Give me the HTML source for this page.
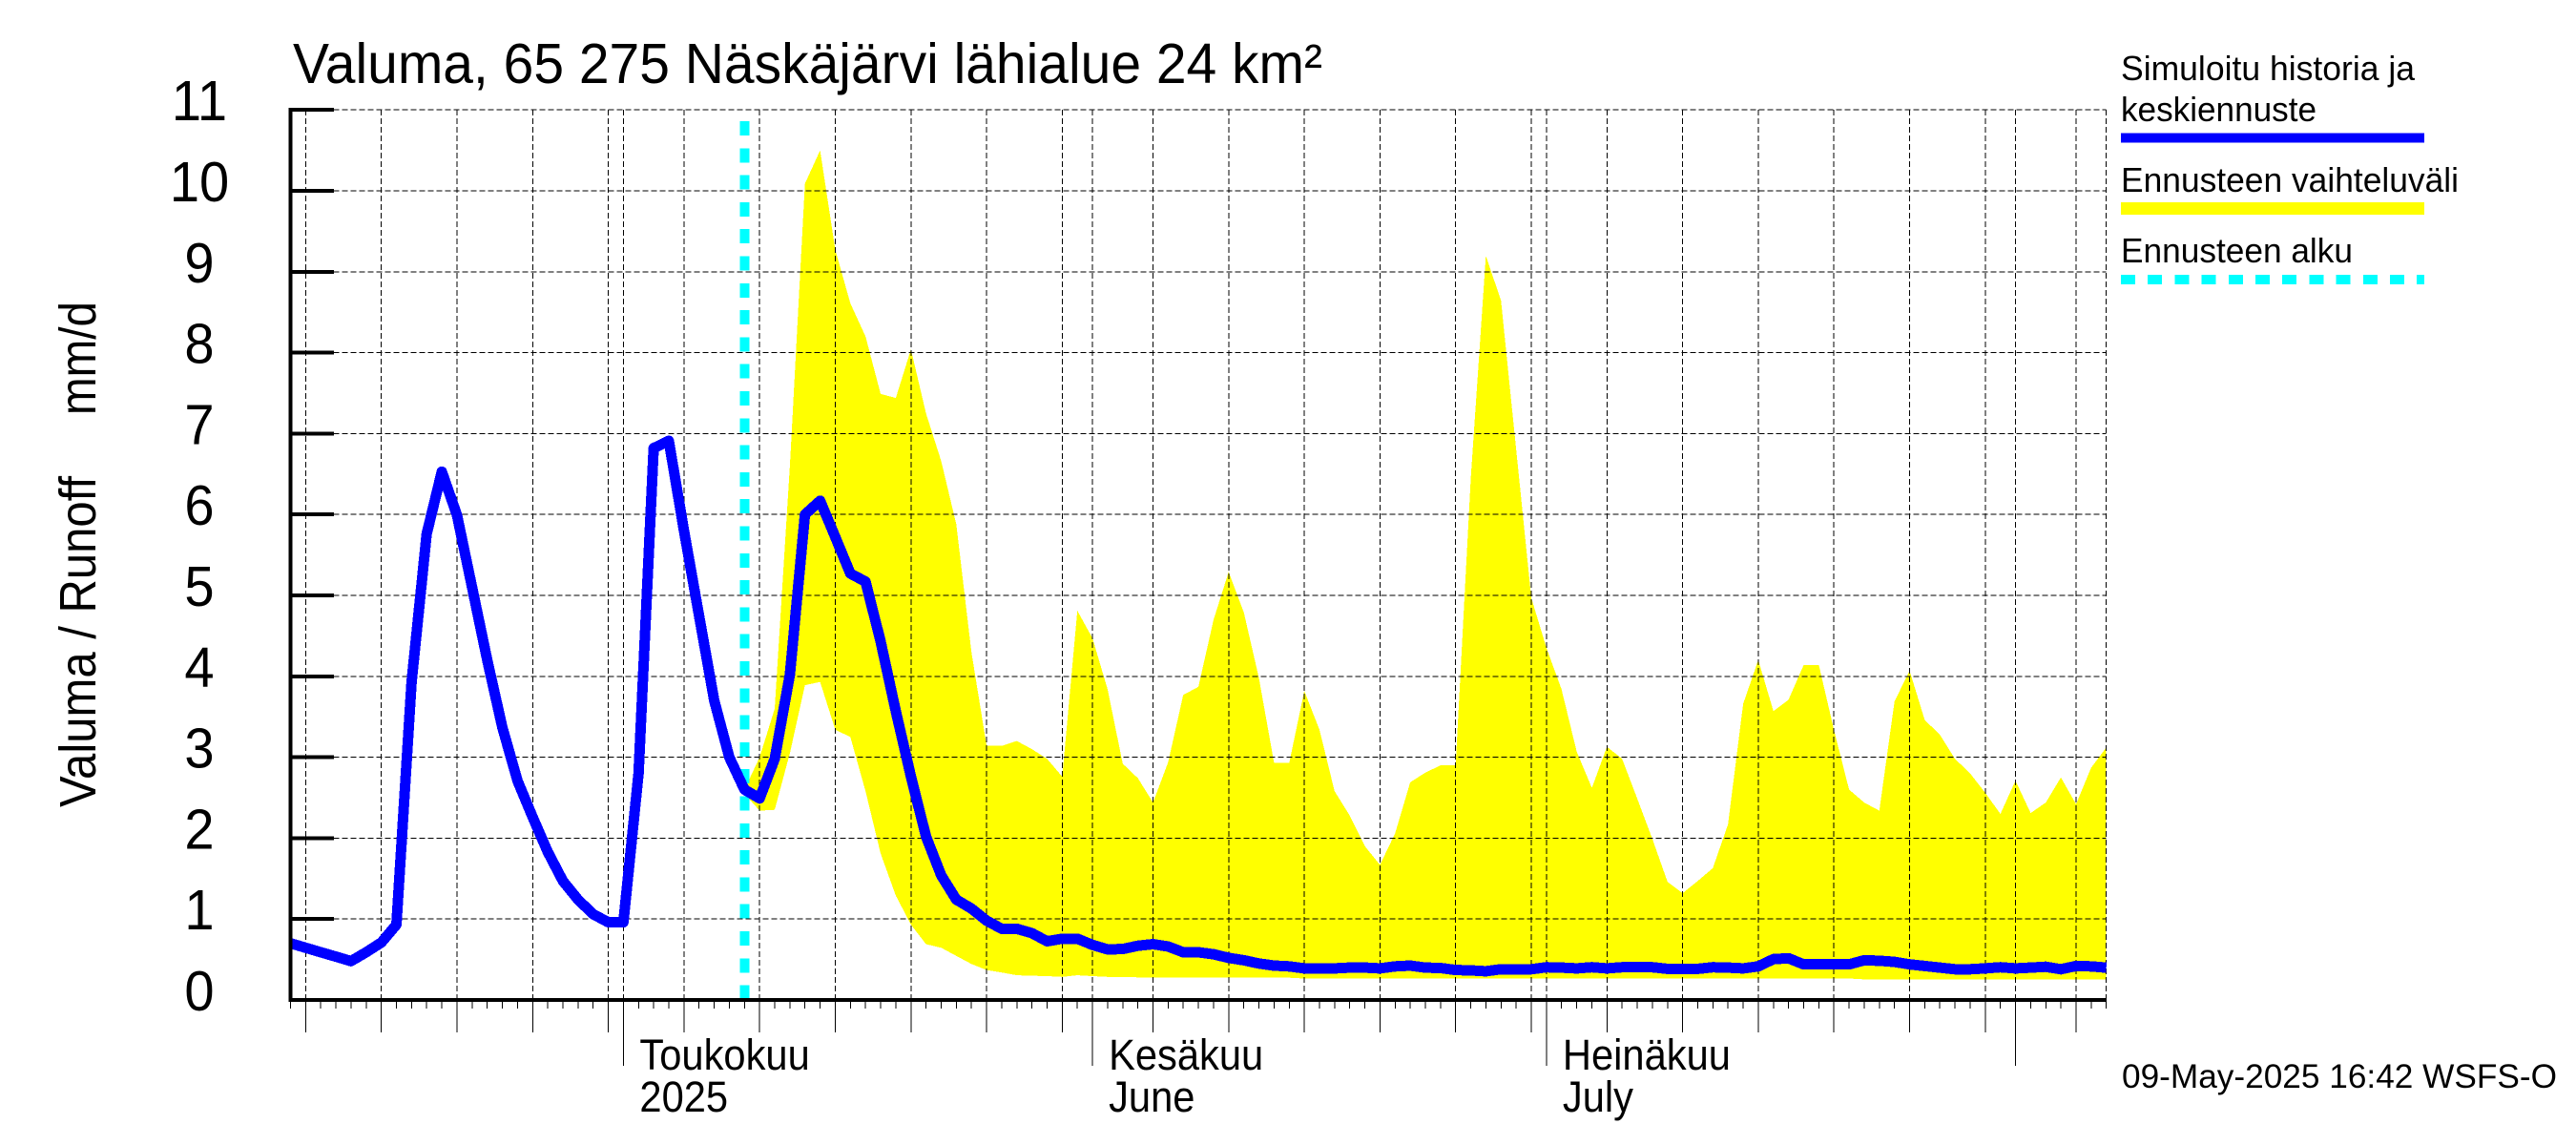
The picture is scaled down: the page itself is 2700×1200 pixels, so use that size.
<!DOCTYPE html>
<html lang="fi">
<head>
<meta charset="utf-8">
<title>Valuma, 65 275 Näskäjärvi lähialue 24 km²</title>
<style>
html,body{margin:0;padding:0;background:#fff;}
body{width:2700px;height:1200px;overflow:hidden;}
svg{display:block;font-family:"Liberation Sans",Arial,sans-serif;fill:#000;}
</style>
</head>
<body>
<svg id="chart" xmlns="http://www.w3.org/2000/svg" width="2700" height="1200" viewBox="0 0 2700 1200">
  <rect x="0" y="0" width="2700" height="1200" fill="#fff"/>
  <g id="bandLayer"></g>
  <g id="gridLayer"></g>
  <g id="startLayer"></g>
  <g id="lineLayer"></g>
  <g id="axisLayer"></g>

  <text x="307" y="87" font-size="59" textLength="1079" lengthAdjust="spacingAndGlyphs">Valuma, 65 275 Näskäjärvi lähialue 24 km²</text>

  <text transform="translate(100,846) rotate(-90)" font-size="54" textLength="347" lengthAdjust="spacingAndGlyphs">Valuma / Runoff</text>
  <text transform="translate(100,435) rotate(-90)" font-size="54" textLength="119" lengthAdjust="spacingAndGlyphs">mm/d</text>

  <g>
    <text x="2223" y="84" font-size="36.5" textLength="308" lengthAdjust="spacingAndGlyphs">Simuloitu historia ja</text>
    <text x="2223" y="127" font-size="36.5" textLength="205" lengthAdjust="spacingAndGlyphs">keskiennuste</text>
    <rect x="2223" y="139.5" width="318" height="10" fill="#0000ff"/>
    <text x="2223" y="201" font-size="36.5" textLength="354" lengthAdjust="spacingAndGlyphs">Ennusteen vaihteluväli</text>
    <rect x="2223" y="212" width="318" height="13" fill="#ffff00"/>
    <text x="2223" y="275" font-size="36.5" textLength="243" lengthAdjust="spacingAndGlyphs">Ennusteen alku</text>
    <line x1="2223" y1="293" x2="2541" y2="293" stroke="#00ffff" stroke-width="10" stroke-dasharray="15 13.2" shape-rendering="crispEdges"/>
  </g>

  <text x="2224" y="1140" font-size="35.5" textLength="456" lengthAdjust="spacingAndGlyphs">09-May-2025 16:42 WSFS-O</text>
</svg>

<script>
const startDate = '2025-04-09';
const forecastStartDay = 30;
const yTickLabels = ['0','1','2','3','4','5','6','7','8','9','10','11'];
const monthLabels = { 5: ['Toukokuu','2025'], 6: ['Kesäkuu','June'], 7: ['Heinäkuu','July'] };

const simulatedMean = [
  0.70,0.645,0.59,0.535,0.48,0.59,0.71,0.93,3.93,5.76,
  6.53,5.99,5.1,4.2,3.37,2.71,2.26,1.83,1.47,1.24,
  1.06,0.96,0.96,2.8,6.82,6.91,5.8,4.75,3.7,3.0,
  2.6,2.49,2.98,4.02,6.0,6.17,5.72,5.27,5.17,4.43,
  3.57,2.76,2.02,1.54,1.24,1.13,0.98,0.88,0.88,0.825,
  0.725,0.757,0.757,0.68,0.625,0.63,0.67,0.69,0.66,0.59,
  0.59,0.565,0.52,0.49,0.45,0.425,0.415,0.39,0.39,0.39,
  0.40,0.40,0.39,0.415,0.425,0.40,0.395,0.37,0.365,0.355,
  0.38,0.38,0.38,0.405,0.40,0.39,0.405,0.39,0.405,0.405,
  0.405,0.385,0.385,0.385,0.405,0.40,0.39,0.415,0.505,0.515,
  0.44,0.44,0.44,0.44,0.49,0.485,0.47,0.44,0.42,0.40,
  0.38,0.38,0.39,0.405,0.39,0.40,0.41,0.38,0.42,0.415,
  0.40
];
const rangeUpper = [
  2.6,3.0,3.6,6.6,10.09,10.5,9.27,8.61,8.2,7.49,
  7.44,8.04,7.25,6.66,5.88,4.3,3.14,3.14,3.2,3.1,
  2.98,2.76,4.81,4.47,3.84,2.92,2.74,2.44,2.94,3.77,
  3.87,4.7,5.29,4.79,3.98,2.93,2.93,3.82,3.34,2.58,
  2.28,1.9,1.67,2.06,2.69,2.81,2.9,2.9,6.45,9.2,
  8.64,6.8,4.97,4.35,3.84,3.07,2.62,3.13,2.98,2.49,
  1.99,1.46,1.32,1.47,1.63,2.17,3.66,4.2,3.57,3.71,
  4.14,4.14,3.34,2.6,2.44,2.34,3.69,4.07,3.46,3.28,
  2.98,2.8,2.56,2.3,2.71,2.31,2.44,2.75,2.42,2.87,
  3.12
];
const rangeLower = [
  2.55,2.34,2.35,3.05,3.89,3.93,3.34,3.25,2.58,1.81,
  1.29,0.93,0.69,0.645,0.545,0.445,0.37,0.34,0.305,0.30,
  0.295,0.285,0.305,0.295,0.285,0.285,0.28,0.28,0.28,0.28,
  0.28,0.28,0.28,0.28,0.28,0.275,0.275,0.265,0.265,0.265,
  0.265,0.265,0.265,0.265,0.265,0.265,0.265,0.265,0.265,0.265,
  0.265,0.265,0.265,0.265,0.265,0.265,0.265,0.265,0.265,0.265,
  0.265,0.265,0.265,0.265,0.265,0.265,0.265,0.265,0.265,0.265,
  0.265,0.265,0.265,0.265,0.255,0.255,0.255,0.255,0.255,0.255,
  0.255,0.255,0.255,0.255,0.255,0.255,0.255,0.255,0.255,0.255,
  0.255
];

const NS = 'http://www.w3.org/2000/svg';
const plotLeft = 304.5, dayWidth = 15.86, plotBottom = 1048, unitHeight = 84.8;
const lastDay = simulatedMean.length - 1;
const yMax = yTickLabels.length - 1;
function xScale(day) { return plotLeft + day * dayWidth; }
function yScale(value) { return plotBottom - value * unitHeight; }
function svgEl(parent, tag, attrs) {
  const el = document.createElementNS(NS, tag);
  for (const k in attrs) el.setAttribute(k, attrs[k]);
  parent.appendChild(el);
  return el;
}
function dayDate(day) {
  const d = new Date(startDate + 'T00:00:00Z');
  d.setUTCDate(d.getUTCDate() + day);
  return d;
}

const bandLayer = document.getElementById('bandLayer');
const gridLayer = document.getElementById('gridLayer');
const startLayer = document.getElementById('startLayer');
const lineLayer = document.getElementById('lineLayer');
const axisLayer = document.getElementById('axisLayer');

/* forecast range band */
const upperPts = rangeUpper.map((v, i) => xScale(forecastStartDay + i).toFixed(1) + ',' + yScale(v).toFixed(1));
const lowerPts = rangeLower.map((v, i) => xScale(forecastStartDay + i).toFixed(1) + ',' + yScale(v).toFixed(1)).reverse();
const band = svgEl(bandLayer, 'polygon', { points: upperPts.concat(lowerPts).join(' '), fill: '#ffff00', 'shape-rendering': 'crispEdges' });



/* horizontal grid + y ticks + y labels */
yTickLabels.forEach((label, i) => {
  const value = Number(label);
  const y = yScale(value);
  if (value > 0) {
    const g = svgEl(gridLayer, 'line', { x1: xScale(0), y1: y, x2: xScale(lastDay), y2: y, stroke: '#000', 'stroke-width': 1, 'stroke-dasharray': '6 3', 'shape-rendering': 'crispEdges' });
    
    
  }
  const t = svgEl(axisLayer, 'line', { x1: plotLeft - 2, y1: y, x2: 350, y2: y, stroke: '#000', 'stroke-width': 4, 'shape-rendering': 'crispEdges' });
  
  
  const txt = svgEl(axisLayer, 'text', { 'font-size': 59, 'text-anchor': 'middle', transform: 'translate(209,' + (y + 11) + ') scale(0.95,1)' });
  txt.textContent = label;
  
  
});

/* x ticks, vertical grid, month labels */
for (let day = 0; day <= lastDay; day++) {
  const date = dayDate(day);
  const dom = date.getUTCDate();
  const isMonth = dom === 1;
  const isFive = dom % 5 === 0;
  const x = xScale(day);
  const tickEnd = isMonth ? 1117 : (isFive ? 1082 : 1057);
  const tick = svgEl(axisLayer, 'line', { x1: x, y1: plotBottom, x2: x, y2: tickEnd, stroke: '#000', 'stroke-width': 1, 'shape-rendering': 'crispEdges' });
  
  
  if (isMonth || isFive || day === lastDay) {
    const g = svgEl(gridLayer, 'line', { x1: x, y1: yScale(yMax), x2: x, y2: plotBottom, stroke: '#000', 'stroke-width': 1, 'stroke-dasharray': '6 3', 'shape-rendering': 'crispEdges' });
    
    
  }
  const labels = isMonth ? monthLabels[date.getUTCMonth() + 1] : null;
  if (labels) {
    const a = svgEl(axisLayer, 'text', { 'font-size': 45, transform: 'translate(' + (x + 17) + ',1121) scale(0.926,1)' });
    a.textContent = labels[0];
    
    
    const b = svgEl(axisLayer, 'text', { 'font-size': 45, transform: 'translate(' + (x + 17) + ',1165) scale(0.926,1)' });
    b.textContent = labels[1];
    
    
  }
}

/* forecast start marker */
const startLine = svgEl(startLayer, 'line', { x1: xScale(forecastStartDay), y1: 127, x2: xScale(forecastStartDay), y2: plotBottom, stroke: '#00ffff', 'stroke-width': 10, 'stroke-dasharray': '15 13.3', 'shape-rendering': 'crispEdges' });



/* simulated mean line */
const linePts = simulatedMean.map((v, i) => xScale(i).toFixed(1) + ',' + yScale(v).toFixed(1)).join(' ');
const meanLine = svgEl(lineLayer, 'polyline', { points: linePts, fill: 'none', stroke: '#0000ff', 'stroke-width': 11, 'stroke-linejoin': 'round', 'shape-rendering': 'crispEdges' });



/* axes */
const yAxis = svgEl(axisLayer, 'line', { x1: plotLeft, y1: yScale(yMax) - 2, x2: plotLeft, y2: plotBottom + 2, stroke: '#000', 'stroke-width': 4, 'shape-rendering': 'crispEdges' });


const xAxis = svgEl(axisLayer, 'line', { x1: plotLeft - 2, y1: plotBottom, x2: xScale(lastDay), y2: plotBottom, stroke: '#000', 'stroke-width': 4, 'shape-rendering': 'crispEdges' });


</script>
</body>
</html>
